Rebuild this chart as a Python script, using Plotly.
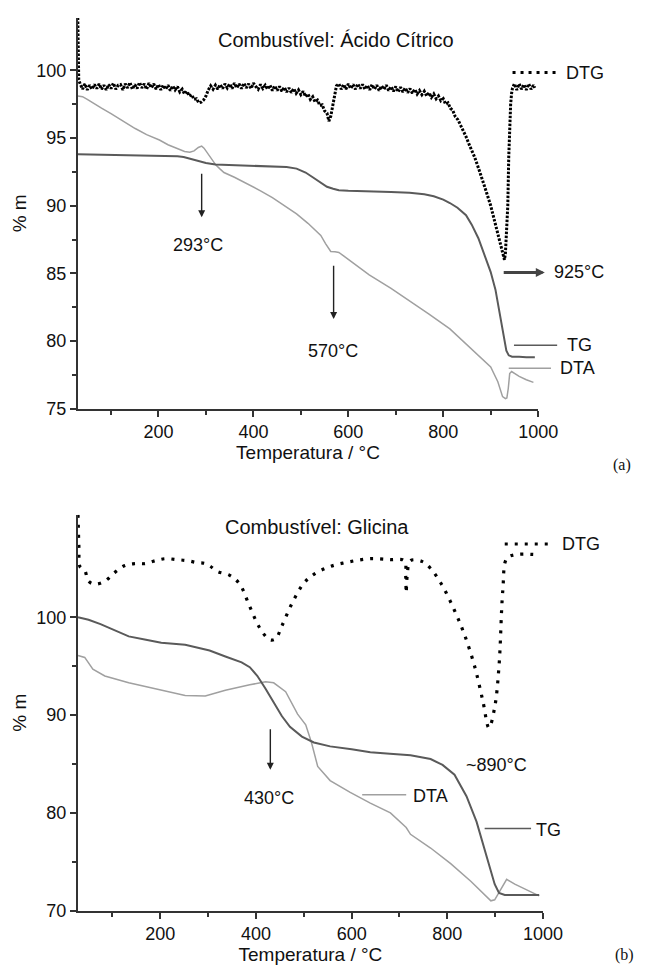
import plotly.graph_objects as go

# ---------------- (a) Combustível: Ácido Cítrico ----------------
dtg_a_T = [30, 31, 32, 35, 40, 45, 50, 55, 60, 65, 70, 75, 80, 85, 90, 95, 100, 105, 110, 115,
           120, 125, 130, 135, 140, 145, 150, 155, 160, 165, 170, 175, 180, 185, 190, 195, 200,
           205, 210, 215, 220, 225, 230, 235, 240, 245, 250, 255, 260, 265, 270, 275, 280, 285,
           290, 295, 300, 305, 310, 315, 320, 325, 330, 335, 340, 345, 350, 355, 360, 365, 370,
           375, 380, 385, 390, 395, 400, 405, 410, 415, 420, 425, 430, 435, 440, 445, 450, 455,
           460, 465, 470, 475, 480, 485, 490, 495, 500, 505, 510, 515, 520, 525, 530, 535, 540,
           545, 550, 555, 559, 563, 567, 571, 575, 580, 585, 590, 595, 600, 605, 610, 615, 620,
           625, 630, 635, 640, 645, 650, 655, 660, 665, 670, 675, 680, 685, 690, 695, 700, 705,
           710, 715, 720, 725, 730, 735, 740, 745, 750, 755, 760, 765, 770, 775, 780, 785, 790,
           795, 800, 805, 810, 815, 820, 825, 831, 840, 848, 856, 866, 875, 883, 891, 900, 906,
           912, 918, 923, 927, 929, 931, 933, 935, 936, 938, 940, 942, 944, 946, 950, 955, 960,
           965, 970, 975, 980, 985, 990, 993]
dtg_a = [103.9, 101.5, 99.3, 99.0, 98.6, 99.0, 98.55, 98.9, 98.6, 98.95, 98.65, 99.0, 98.6,
         98.9, 98.55, 98.95, 98.65, 99.05, 98.6, 98.9, 98.95, 98.55, 99.0, 98.7, 99.1, 98.6,
         98.95, 98.65, 99.1, 98.7, 99.0, 98.6, 99.05, 98.7, 99.0, 98.6, 98.95, 98.55, 98.9,
         98.6, 98.9, 98.5, 98.85, 98.55, 98.8, 98.4, 98.6, 98.25, 98.45, 98.1, 98.2, 97.85,
         97.9, 97.6, 97.65, 97.8, 98.1, 98.55, 98.85, 98.6, 98.9, 98.6, 98.95, 98.65, 99.0,
         98.7, 99.0, 98.65, 99.05, 98.7, 99.0, 98.65, 99.05, 98.7, 99.0, 98.65, 99.05, 98.8,
         98.6, 98.95, 98.65, 98.9, 98.6, 98.9, 98.5, 98.85, 98.5, 98.8, 98.45, 98.75, 98.4,
         98.7, 98.35, 98.65, 98.3, 98.55, 98.2, 98.45, 98.05, 98.25, 97.85, 98.05, 97.65, 97.8,
         97.4, 97.45, 97.0, 96.85, 96.25, 96.6, 97.4, 98.3, 98.85, 99.0, 98.6, 98.95, 98.6, 99.0,
         98.65, 98.95, 98.6, 99.0, 98.65, 98.95, 98.6, 98.9, 98.55, 98.95, 98.6, 98.9, 98.5,
         98.85, 98.6, 98.9, 98.5, 98.8, 98.45, 98.8, 98.4, 98.75, 98.4, 98.7, 98.35, 98.65,
         98.3, 98.6, 98.25, 98.5, 98.2, 98.45, 98.1, 98.35, 98.0, 98.25, 97.9, 98.1, 97.75,
         97.9, 97.5, 97.6, 97.2, 97.05, 96.6, 96.35, 95.7, 95.1, 94.4, 93.6, 92.7, 91.9, 91.0,
         90.0, 89.2, 88.3, 87.5, 86.8, 86.2, 86.0, 86.5, 87.6, 89.0, 90.0, 93.6, 95.8, 97.5,
         98.3, 98.7, 99.0, 98.55, 99.0, 98.6, 98.95, 98.55, 99.0, 98.6, 98.9, 98.7]

tg_a_T = [30, 60, 100, 150, 200, 240, 253, 270, 287, 300, 320, 360, 389, 430, 470, 491, 510,
          525, 540, 555, 568, 580, 600, 644, 690, 729, 760, 780, 800, 814, 830, 848, 860, 874,
          887, 900, 910, 917, 925, 929, 933, 938, 945, 960, 975, 993]
tg_a = [93.8, 93.78, 93.75, 93.72, 93.7, 93.66, 93.6, 93.45, 93.3, 93.15, 93.05, 93.0, 92.96,
        92.9, 92.85, 92.74, 92.45, 92.1, 91.75, 91.4, 91.25, 91.15, 91.1, 91.08, 91.02, 90.95,
        90.85, 90.7, 90.45, 90.2, 89.85, 89.3, 88.6, 87.6, 86.3, 85.1, 83.8, 82.5, 80.8, 80.0,
        79.3, 78.95, 78.85, 78.85, 78.8, 78.8]

dta_a_T = [30, 40, 50, 61, 80, 100, 125, 151, 175, 202, 220, 236, 255, 266, 275, 284, 291,
           296, 304, 312, 321, 330, 338, 360, 389, 415, 440, 465, 491, 515, 542, 552, 559, 563,
           572, 580, 590, 602, 644, 690, 729, 770, 814, 860, 900, 915, 925, 931, 934, 937, 940,
           944, 950, 960, 975, 990]
dta_a = [98.1, 98.05, 97.85, 97.6, 97.2, 96.8, 96.25, 95.7, 95.25, 94.85, 94.5, 94.25, 94.0,
         93.95, 94.05, 94.3, 94.4, 94.25, 93.85, 93.4, 93.0, 92.7, 92.45, 92.1, 91.6, 91.1,
         90.6, 90.0, 89.4, 88.7, 87.8, 87.2, 86.8, 86.62, 86.6, 86.55, 86.3, 86.0, 84.9, 83.9,
         83.0, 82.0, 80.9, 79.4, 78.1, 77.0, 75.9, 75.75, 75.8, 76.5, 77.6, 77.75, 77.6, 77.4,
         77.15, 76.95]

# ---------------- (b) Combustível: Glicina ----------------
dtg_b_T = [28, 30, 32, 42, 50, 63, 84, 105, 126, 147, 168, 190, 210, 235, 256, 277, 294, 305,
           319, 345, 366, 387, 408, 429, 441, 454, 475, 500, 521, 555, 597, 639, 681, 710, 713,
           714, 716, 723, 748, 765, 790, 815, 836, 857, 874, 887, 899, 908, 916, 924, 941, 992]
dtg_b = [110.5, 107.0, 105.2, 104.8, 103.7, 103.4, 103.7, 104.6, 105.3, 105.5, 105.5, 105.8,
         106.0, 105.9, 105.8, 105.6, 105.5, 105.2, 104.7, 104.3, 103.4, 101.1, 98.9, 97.7, 97.8,
         99.1, 101.4, 103.5, 104.4, 105.2, 105.7, 106.0, 105.9, 105.8, 104.2, 102.5, 104.2, 105.8,
         105.7, 105.0, 103.2, 100.7, 98.2, 95.0, 91.5, 88.7, 90.8, 95.0, 102.8, 106.0, 106.4,
         106.4]

tg_b_T = [28, 50, 75, 101, 134, 170, 202, 252, 303, 336, 370, 387, 403, 420, 437, 454, 471,
          496, 521, 555, 600, 639, 680, 723, 765, 790, 815, 840, 861, 878, 891, 899, 908, 920, 992]
tg_b = [100.0, 99.75, 99.3, 98.76, 98.05, 97.7, 97.4, 97.2, 96.6, 96.0, 95.4, 94.9, 94.0, 92.7,
        91.3, 89.9, 88.8, 87.8, 87.2, 86.8, 86.5, 86.2, 86.05, 85.9, 85.5, 84.9, 83.9, 81.7,
        79.1, 76.2, 74.1, 72.7, 71.8, 71.6, 71.6]

dta_b_T = [28, 42, 59, 84, 134, 202, 252, 294, 336, 387, 420, 437, 462, 487, 504, 516, 529,
           555, 597, 639, 681, 714, 723, 765, 807, 849, 878, 891, 899, 912, 924, 941, 992]
dta_b = [96.1, 95.9, 94.7, 94.0, 93.3, 92.55, 92.0, 91.95, 92.55, 93.1, 93.4, 93.3, 92.4, 90.1,
         89.0, 87.2, 84.75, 83.3, 82.1, 81.0, 80.0, 78.5, 77.8, 76.4, 74.8, 73.0, 71.6, 71.0,
         71.1, 72.2, 73.2, 72.7, 71.5]

x_ticks = [200, 400, 600, 800, 1000]
x_minor = [100, 300, 500, 700, 900]
y_ticks_a = [75, 80, 85, 90, 95, 100]
y_minor_a = [77.5, 82.5, 87.5, 92.5, 97.5]
y_ticks_b = [70, 80, 90, 100]
y_minor_b = [75, 85, 95]

W, H = 650, 968
# plot-area geometry (pixels)
A_X = (72, 547); A_Y = (405, 10); A_XR = (30, 1000); A_YR = (75, 103.87)
B_X = (72, 552); B_Y = (912, 512); B_XR = (27.5, 1000); B_YR = (70, 110.5)


def dom(p, size, flip=False):
    if flip:
        return [1 - p[0] / size, 1 - p[1] / size]
    return [p[0] / size, p[1] / size]


def pix(T, v, X, Y, XR, YR):
    px = X[0] + (T - XR[0]) / (XR[1] - XR[0]) * (X[1] - X[0])
    py = Y[0] + (v - YR[0]) / (YR[1] - YR[0]) * (Y[1] - Y[0])
    return px, py


def pa(T, v):
    return pix(T, v, A_X, A_Y, A_XR, A_YR)


def pb(T, v):
    return pix(T, v, B_X, B_Y, B_XR, B_YR)


FONT = "Liberation Sans, Arial, sans-serif"
TXT = "#111"
TG_COL = "#5a5a5a"
DTA_COL = "#a0a0a0"
TICK = 18
LAB = 18

fig = go.Figure()
fig.add_trace(go.Scatter(x=dta_a_T, y=dta_a, mode="lines", line=dict(color=DTA_COL, width=1.5),
                         xaxis="x", yaxis="y", name="DTA"))
fig.add_trace(go.Scatter(x=tg_a_T, y=tg_a, mode="lines", line=dict(color=TG_COL, width=2),
                         xaxis="x", yaxis="y", name="TG"))
fig.add_trace(go.Scatter(x=dtg_a_T, y=dtg_a, mode="lines",
                         line=dict(color="#000", width=3, dash="2.5px,1.5px"),
                         xaxis="x", yaxis="y", name="DTG"))
fig.add_trace(go.Scatter(x=dta_b_T, y=dta_b, mode="lines", line=dict(color=DTA_COL, width=1.5),
                         xaxis="x2", yaxis="y2", name="DTA"))
fig.add_trace(go.Scatter(x=tg_b_T, y=tg_b, mode="lines", line=dict(color=TG_COL, width=2),
                         xaxis="x2", yaxis="y2", name="TG"))
fig.add_trace(go.Scatter(x=dtg_b_T, y=dtg_b, mode="lines", line_shape="spline",
                         line=dict(color="#000", width=3.2, dash="3px,7px"),
                         xaxis="x2", yaxis="y2", name="DTG"))

axis_common = dict(showline=True, linecolor="#333", linewidth=2, ticks="outside", ticklen=6,
                   tickwidth=2, tickcolor="#333", showgrid=False, zeroline=False,
                   tickfont=dict(family=FONT, size=TICK, color=TXT), mirror=False)
xcommon = dict(axis_common, tickmode="array", tickvals=x_ticks,
               minor=dict(tickmode="array", tickvals=x_minor, ticklen=4, tickwidth=2,
                          tickcolor="#333", ticks="outside"),
               title=dict(text="Temperatura / °C", font=dict(family=FONT, size=19, color=TXT),
                          standoff=2))
ytitle = dict(text="% m", font=dict(family=FONT, size=19, color=TXT), standoff=4)

fig.update_layout(
    width=W, height=H, margin=dict(l=0, r=0, t=0, b=0),
    paper_bgcolor="white", plot_bgcolor="white", showlegend=False,
    xaxis=dict(xcommon, domain=dom(A_X, W), range=list(A_XR), anchor="y"),
    yaxis=dict(axis_common, domain=dom(A_Y, H, True), range=list(A_YR), anchor="x",
               tickmode="array", tickvals=y_ticks_a,
               minor=dict(tickmode="array", tickvals=y_minor_a, ticklen=4, tickwidth=2,
                          tickcolor="#333", ticks="outside"),
               title=ytitle),
    xaxis2=dict(xcommon, domain=dom(B_X, W), range=list(B_XR), anchor="y2"),
    yaxis2=dict(axis_common, domain=dom(B_Y, H, True), range=list(B_YR), anchor="x2",
                tickmode="array", tickvals=y_ticks_b,
                minor=dict(tickmode="array", tickvals=y_minor_b, ticklen=4, tickwidth=2,
                           tickcolor="#333", ticks="outside"),
                title=ytitle),
)

ann = []
shapes = []


def text(pfun, T, v, s, size=LAB, xanchor="center"):
    x, y = pfun(T, v)
    ann.append(dict(x=x / W, y=1 - y / H, xref="paper", yref="paper", text=s, showarrow=False,
                    xanchor=xanchor, yanchor="middle",
                    font=dict(family=FONT, size=size, color=TXT)))


def seg(pfun, T0, T1, v, color, width, dash="solid"):
    x0, y0 = pfun(T0, v)
    x1, y1 = pfun(T1, v)
    shapes.append(dict(type="line", xref="paper", yref="paper", x0=x0 / W, y0=1 - y0 / H,
                       x1=x1 / W, y1=1 - y1 / H,
                       line=dict(color=color, width=width, dash=dash)))


def arrow(pfun, T0, v0, T1, v1, width=1.4, color="#222", head=2, size=1.0):
    x0, y0 = pfun(T0, v0)
    x1, y1 = pfun(T1, v1)
    ann.append(dict(x=x1 / W, y=1 - y1 / H, xref="paper", yref="paper", axref="pixel",
                    ayref="pixel", ax=x0 - x1, ay=y0 - y1, text="", showarrow=True,
                    arrowhead=head, arrowsize=size, arrowwidth=width, arrowcolor=color))


# (a)
text(pa, 575, 102.25, "Combustível: Ácido Cítrico", size=20)
arrow(pa, 291, 92.43, 291, 89.15)
text(pa, 284, 87.1, "293°C")
arrow(pa, 569, 85.63, 569, 81.63)
text(pa, 568, 79.27, "570°C")
arrow(pa, 927, 85.07, 1014, 85.07, width=3, color="#444", head=2, size=0.6)
text(pa, 1029, 85.07, "925°C", xanchor="left")
seg(pa, 946, 1044, 99.83, "#000", 3, "3px,5px")
text(pa, 1055, 99.83, "DTG", xanchor="left")
seg(pa, 949, 1040, 79.7, TG_COL, 1.5)
text(pa, 1056, 79.7, "TG", xanchor="left")
seg(pa, 938, 1027, 78.0, DTA_COL, 1.5)
text(pa, 1042, 78.0, "DTA", xanchor="left")

# (b)
text(pb, 528, 109.2, "Combustível: Glicina", size=20)
arrow(pb, 430, 88.65, 430, 84.4)
text(pb, 427, 81.56, "430°C")
text(pb, 903, 84.93, "~890°C")
seg(pb, 622, 714, 81.84, DTA_COL, 1.5)
text(pb, 725, 81.74, "DTA", xanchor="left")
seg(pb, 878, 975, 78.4, TG_COL, 1.5)
text(pb, 981, 78.2, "TG", xanchor="left")
seg(pb, 920, 1017, 107.5, "#000", 3, "3px,7px")
text(pb, 1036, 107.5, "DTG", xanchor="left")

ann.append(dict(x=645 / W, y=1 - 462 / H, xref="paper", yref="paper", text="(a)",
                showarrow=False, xanchor="right", yanchor="middle",
                font=dict(family="Liberation Serif, serif", size=16, color=TXT)))
ann.append(dict(x=648 / W, y=1 - 957 / H, xref="paper", yref="paper", text="(b)",
                showarrow=False, xanchor="right", yanchor="middle",
                font=dict(family="Liberation Serif, serif", size=16, color=TXT)))

fig.update_layout(annotations=ann, shapes=shapes)
fig.write_html("out.html")
